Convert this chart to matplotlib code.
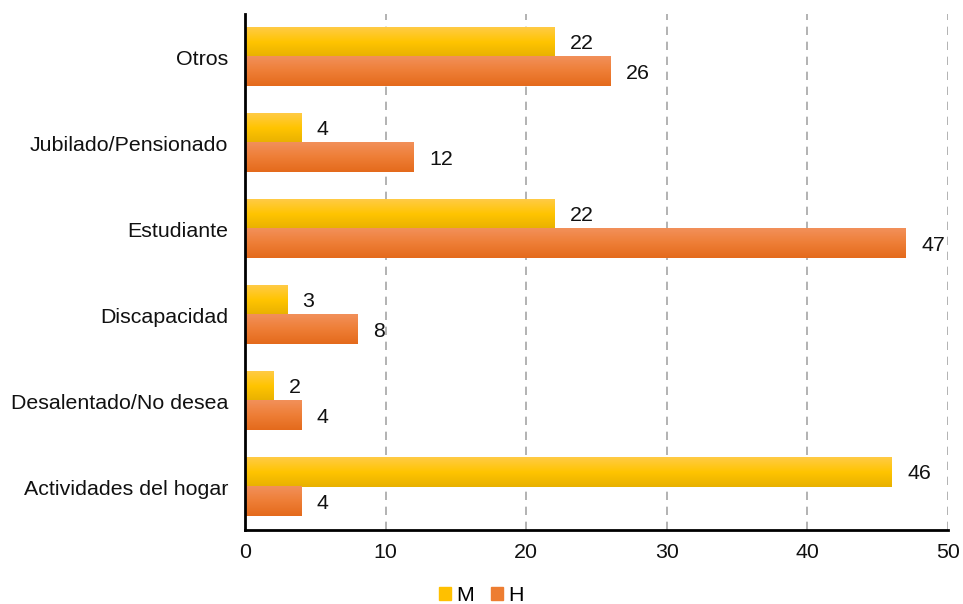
import numpy as np
import matplotlib.pyplot as plt
from matplotlib.colors import LinearSegmentedColormap
from matplotlib.patches import Patch

plt.rcParams['font.family'] = ['Liberation Sans', 'DejaVu Sans']

categories = ['Actividades del hogar', 'Desalentado/No desea', 'Discapacidad',
              'Estudiante', 'Jubilado/Pensionado', 'Otros']
m_vals = [46, 2, 3, 22, 4, 22]
h_vals = [4, 4, 8, 47, 12, 26]

m_cmap = LinearSegmentedColormap.from_list('m', ['#E8B100', '#FFC400', '#FFCB45'])
h_cmap = LinearSegmentedColormap.from_list('h', ['#E46A1C', '#EE7E36', '#F2905A'])

fs = 15.4

fig = plt.figure(figsize=(9.63, 6.04), dpi=100)
ax = fig.add_axes([0.2544, 0.1225, 0.730, 0.854])

y = np.arange(len(categories))
bh = 0.34
m_bars = ax.barh(y + bh / 2, m_vals, height=bh, color='#FFC000', zorder=2)
h_bars = ax.barh(y - bh / 2, h_vals, height=bh, color='#ED7D31', zorder=2)

# gradient fill over each bar
grad = np.linspace(0, 1, 64).reshape(-1, 1)
for bars, cmap in ((m_bars, m_cmap), (h_bars, h_cmap)):
    for b in bars:
        x0, y0 = b.get_x(), b.get_y()
        ax.imshow(grad, cmap=cmap, aspect='auto', origin='lower',
                  extent=(x0, x0 + b.get_width(), y0, y0 + b.get_height()),
                  zorder=3)

for bars, vals in ((m_bars, m_vals), (h_bars, h_vals)):
    for b, v in zip(bars, vals):
        ax.annotate(str(v), (b.get_width(), b.get_y() + b.get_height() / 2),
                    xytext=(11, -1), textcoords='offset points',
                    va='center', ha='left', fontsize=fs, color='#111111')

ax.set_xlim(0, 50)
ax.set_ylim(-0.5, len(categories) - 0.5)
ax.set_xticks([0, 10, 20, 30, 40, 50])
ax.set_yticks(y)
ax.set_yticklabels(categories)
ax.tick_params(axis='both', length=0, labelsize=fs, colors='#111111')
ax.tick_params(axis='x', pad=9)
ax.tick_params(axis='y', pad=12)
ax.xaxis.grid(True, color='#A6A6A6', linestyle=(0, (5, 4)), linewidth=1.2, zorder=0)
ax.set_axisbelow(True)
for s in ('top', 'right'):
    ax.spines[s].set_visible(False)
ax.spines['left'].set_linewidth(2)
ax.spines['bottom'].set_linewidth(2)
ax.spines['left'].set_zorder(5)

handles = [Patch(color='#FFC000', label='M'), Patch(color='#ED7D31', label='H')]
fig.legend(handles=handles, loc='lower center', bbox_to_anchor=(0.5, -0.033), ncol=2,
           frameon=False, fontsize=fs, handlelength=0.55, handleheight=0.55,
           handletextpad=0.25, columnspacing=0.8)

fig.savefig('out.png', dpi=100)
